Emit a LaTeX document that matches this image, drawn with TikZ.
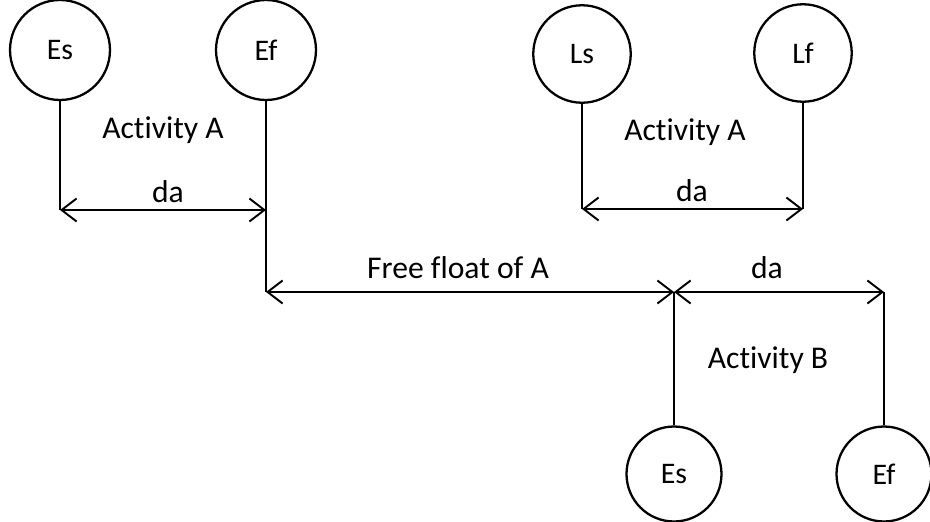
\documentclass[tikz,border=0pt]{standalone}
\usepackage{fontspec}
\setmainfont[Ligatures=NoCommon]{Carlito}
\usetikzlibrary{arrows.meta}

\tikzset{
  event/.style={draw, line width=1.3pt, circle, minimum size=2cm, inner sep=0pt,
    font=\fontsize{17}{19}\selectfont},
  dim/.style={{Straight Barb[length=3mm,width=4.6mm]}-{Straight Barb[length=3mm,width=4.6mm]},
    line width=1.1pt},
  txt/.style={font=\fontsize{18}{21}\selectfont}
}

\begin{document}
\begin{tikzpicture}[x=0.02cm, y=-0.02cm]
  \useasboundingbox (0,0) rectangle (930,521);
  \node[event] (esA) at (60,50) {Es};
  \node[event] (efA) at (266,50) {Ef};
  \node[event, minimum size=1.95cm] (lsA) at (582,54) {Ls};
  \node[event, minimum size=1.95cm] (lfA) at (803,53) {Lf};
  \node[event, minimum size=1.9cm] (esB) at (674,474) {Es};
  \node[event, minimum size=1.9cm] (efB) at (884,474) {Ef};

  \coordinate (daA1) at (esA |- 0,210);
  \coordinate (daA2) at (efA |- 0,210);
  \coordinate (ffA) at (efA |- 0,292);
  \coordinate (daL1) at (lsA |- 0,209);
  \coordinate (daL2) at (lfA |- 0,209);
  \coordinate (daB1) at (esB |- 0,292);
  \coordinate (daB2) at (efB |- 0,292);

  \draw[line width=0.9pt] (esA) -- (daA1);
  \draw[line width=0.9pt] (efA) -- (ffA);
  \draw[line width=0.9pt] (lsA) -- (daL1);
  \draw[line width=0.9pt] (lfA) -- (daL2);
  \draw[line width=0.9pt] (esB) -- (daB1);
  \draw[line width=0.9pt] (efB) -- (daB2);

  \draw[dim] (daA1) -- (daA2);
  \draw[dim] (daL1) -- (daL2);
  \draw[dim] (ffA) -- (daB1);
  \draw[dim] (daB1) -- (daB2);

  \node[txt] (actA) at (163,130) {Activity A};
  \node[txt] (lblA) at (168,192) {da};
  \node[txt] (actL) at (685,132) {Activity A};
  \node[txt] (lblL) at (692,191) {da};
  \node[txt] (lblF) at (458,268) {Free float of A};
  \node[txt] (lblB) at (767,268) {da};
  \node[txt] (actB) at (768,360) {Activity B};
\end{tikzpicture}
\end{document}
